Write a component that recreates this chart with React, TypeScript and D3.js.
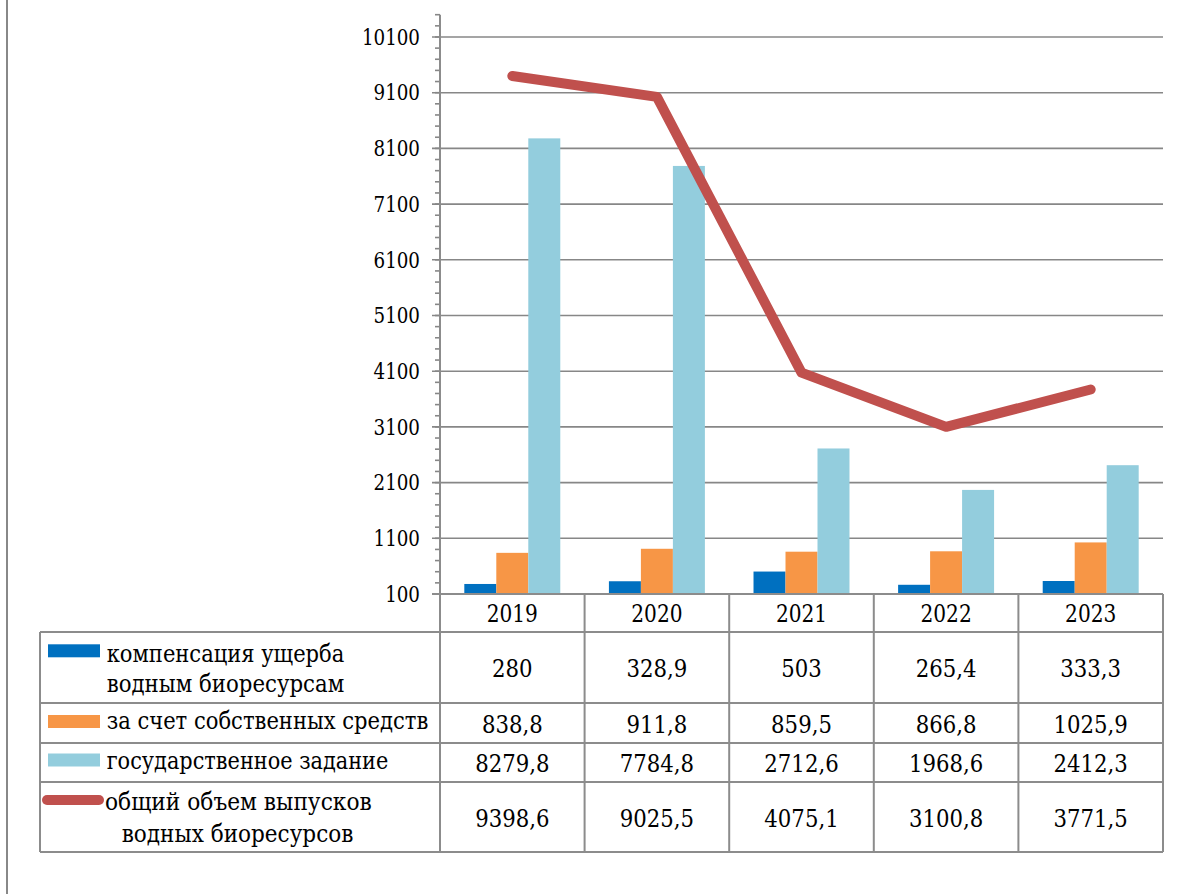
import React from "react";
import * as d3 from "d3";

const years = ["2019", "2020", "2021", "2022", "2023"];
const compensation = [280, 328.9, 503, 265.4, 333.3];
const ownFunds = [838.8, 911.8, 859.5, 866.8, 1025.9];
const stateTask = [8279.8, 7784.8, 2712.6, 1968.6, 2412.3];
const totalReleases = [9398.6, 9025.5, 4075.1, 3100.8, 3771.5];
const yTicks = [100, 1100, 2100, 3100, 4100, 5100, 6100, 7100, 8100, 9100, 10100];
const legendLines = [
  ["компенсация ущерба", "водным биоресурсам"],
  ["за счет собственных средств"],
  ["государственное задание"],
  ["общий объем выпусков", " водных биоресурсов"],
];
const barColors = ["#0070C0", "#F79646", "#93CDDD"];
const lineColor = "#C0504D";

const fmt = (v: number) => String(v).replace(".", ",");
const FONT = "DejaVu Serif";

function T(props: { x: number; y: number; size: number; anchor?: string; sx?: number; dy?: string; children: React.ReactNode }) {
  const { x, y, size, anchor = "start", sx = 0.85, dy = "0", children } = props;
  return (
    <text transform={`translate(${x},${y}) scale(${sx},1)`} dy={dy} textAnchor={anchor} fontSize={size} fill="#000" style={{ fontFamily: FONT }}>
      {children}
    </text>
  );
}

export default function App() {
  const W = 1192, H = 894;
  const left = 440, right = 1163, top = 14.7, bottom = 594;
  const y = d3.scaleLinear().domain([100, 10500]).range([bottom, top]);
  const x0 = d3.scaleBand<string>().domain(years).range([left, right]).paddingInner(0).paddingOuter(0);
  const bw = x0.bandwidth();
  const x1 = d3.scaleBand<number>().domain([0, 1, 2]).range([0, bw]).paddingInner(0).paddingOuter(0.76);
  const barSeries = [compensation, ownFunds, stateTask];
  const minor = d3.range(100, 10501, 200);
  const line = d3.line<number>().x((_, i) => x0(years[i])! + bw / 2).y((d) => y(d));

  const tableLeft = 40;
  const rowsY = [632, 703, 743, 782, 852];
  const headerTop = bottom;
  const gridC = "#878787";
  const tableC = "#8c8c8c";
  const tableValues = [compensation, ownFunds, stateTask, totalReleases];

  // legend text placement: [x, baseline, width]
  const legendPos = [
    [[106.7, 662.3, 237.6], [106.7, 691.7, 237.6]],
    [[106.7, 729.3, 321.6]],
    [[106.7, 769, 281.6]],
    [[105, 810, 266.7], [121.7, 841.7, 231.7]],
  ];
  const swatchY = [644.3, 715, 753.5];

  return (
    <svg width={W} height={H} style={{ position: "absolute", left: 0, top: 0, background: "#fff" }}>
      <rect x={0} y={0} width={W} height={H} fill="#fff" />
      <line x1={7} x2={7} y1={0} y2={H} stroke="#888" strokeWidth={2} />
      {yTicks.slice(1).map((t) => (
        <line key={t} x1={432} x2={right} y1={y(t)} y2={y(t)} stroke={gridC} strokeWidth={1.6} />
      ))}
      {minor.map((t) => (
        <line key={"m" + t} x1={435} x2={left} y1={y(t)} y2={y(t)} stroke={gridC} strokeWidth={1.6} />
      ))}
      {yTicks.map((t) => (
        <T key={"l" + t} x={420} y={y(t)} dy="0.36em" anchor="end" size={21.5}>{t}</T>
      ))}
      {barSeries.map((s, si) =>
        s.map((v, i) => (
          <rect key={si + "-" + i} x={x0(years[i])! + x1(si)!} width={x1.bandwidth()} y={y(v)} height={y(100) - y(v)} fill={barColors[si]} />
        ))
      )}
      <line x1={left} x2={left} y1={top} y2={rowsY[4]} stroke={tableC} strokeWidth={2} />
      <line x1={432} x2={right} y1={bottom} y2={bottom} stroke={tableC} strokeWidth={2} />
      <path d={line(totalReleases) || ""} fill="none" stroke={lineColor} strokeWidth={10} strokeLinecap="round" strokeLinejoin="round" />
      {rowsY.map((ry) => (
        <line key={"r" + ry} x1={tableLeft} x2={right} y1={ry} y2={ry} stroke={tableC} strokeWidth={2} />
      ))}
      <line x1={tableLeft} x2={tableLeft} y1={rowsY[0]} y2={rowsY[4]} stroke={tableC} strokeWidth={2} />
      {years.map((yr) => (
        <line key={"v" + yr} x1={x0(yr)! + bw} x2={x0(yr)! + bw} y1={headerTop} y2={rowsY[4]} stroke={tableC} strokeWidth={2} />
      ))}
      {years.map((yr) => (
        <T key={"h" + yr} x={x0(yr)! + bw / 2} y={(headerTop + rowsY[0]) / 2 + 0.7} dy="0.36em" anchor="middle" size={23.7}>{yr}</T>
      ))}
      {tableValues.map((vals, ri) =>
        vals.map((v, i) => (
          <T key={ri + "v" + i} x={x0(years[i])! + bw / 2} y={(rowsY[ri] + rowsY[ri + 1]) / 2 + 0.5} dy="0.36em" anchor="middle" size={25}>{fmt(v)}</T>
        ))
      )}
      {swatchY.map((sy, i) => (
        <rect key={"sw" + i} x={48} y={sy} width={52} height={13} fill={barColors[i]} />
      ))}
      <line x1={47} x2={99} y1={800} y2={800} stroke={lineColor} strokeWidth={10} strokeLinecap="round" />
      {legendLines.map((lines, ri) =>
        lines.map((txt, li) => {
          const [lx, ly, lw] = legendPos[ri][li];
          return (
            <text key={ri + "-" + li} x={lx} y={ly} textLength={lw} lengthAdjust="spacingAndGlyphs" fontSize={23.5} fill="#000" style={{ fontFamily: FONT }}>
              {txt.trim()}
            </text>
          );
        })
      )}
    </svg>
  );
}
